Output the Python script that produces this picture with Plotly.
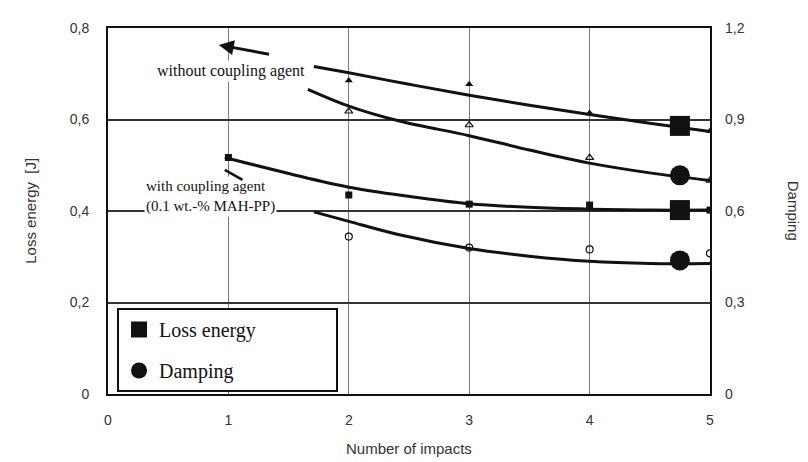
import plotly.graph_objects as go

# ---- data ----
impacts = [1, 2, 3, 4, 5]

# measured points
loss_without_x = [2, 3, 4, 5]
loss_without = [0.685, 0.677, 0.614, 0.575]
damp_without_x = [2, 3, 4, 5]
damp_without = [0.927, 0.882, 0.775, 0.70]
loss_with_x = [1, 2, 3, 4, 5]
loss_with = [0.517, 0.435, 0.415, 0.413, 0.402]
damp_with_x = [2, 3, 4, 5]
damp_with = [0.516, 0.48, 0.474, 0.461]

# fitted curves
fit_loss_without_x = [1.71, 2.0, 2.5, 3.0, 3.5, 4.0, 4.5, 5.0]
fit_loss_without = [0.716, 0.702, 0.677, 0.653, 0.631, 0.611, 0.592, 0.574]
fit_damp_without_x = [1.66, 2.0, 2.42, 3.0, 3.5, 4.0, 4.5, 5.0]
fit_damp_without = [0.999, 0.944, 0.895, 0.847, 0.80, 0.757, 0.725, 0.70]
fit_loss_with_x = [0.97, 1.5, 2.0, 2.5, 3.0, 3.5, 4.0, 4.5, 5.0]
fit_loss_with = [0.517, 0.482, 0.452, 0.432, 0.416, 0.408, 0.404, 0.402, 0.402]
fit_damp_with_x = [1.71, 2.0, 2.42, 3.0, 3.5, 4.0, 4.5, 5.0]
fit_damp_with = [0.597, 0.566, 0.522, 0.477, 0.452, 0.435, 0.428, 0.428]

# curve labels (big symbols)
label_x = [4.75, 4.75]
label_loss = [0.586, 0.402]
label_damp = [0.717, 0.438]

x_ticks = [0, 1, 2, 3, 4, 5]
left_ticks = [0, 0.2, 0.4, 0.6, 0.8]
left_tick_text = ["0", "0,2", "0,4", "0,6", "0,8"]
right_ticks = [0, 0.3, 0.6, 0.9, 1.2]
right_tick_text = ["0", "0,3", "0,6", "0,9", "1,2"]

SANS = "Liberation Sans, Arial, sans-serif"
SERIF = "Liberation Serif, Times New Roman, serif"
INK = "#111111"
NBSP = "\u00a0"

fig = go.Figure()

def curve(x, y, axis):
    fig.add_trace(go.Scatter(x=x, y=y, mode="lines", yaxis=axis,
                             line=dict(color=INK, width=3, shape="spline", smoothing=1.0),
                             showlegend=False, hoverinfo="skip"))

curve(fit_loss_without_x, fit_loss_without, "y")
curve(fit_damp_without_x, fit_damp_without, "y2")
curve(fit_loss_with_x, fit_loss_with, "y")
curve(fit_damp_with_x, fit_damp_with, "y2")

fig.add_trace(go.Scatter(x=loss_without_x, y=loss_without, mode="markers", yaxis="y",
                         marker=dict(symbol="triangle-up", size=7, color=INK), showlegend=False))
fig.add_trace(go.Scatter(x=damp_without_x, y=damp_without, mode="markers", yaxis="y2",
                         marker=dict(symbol="triangle-up-open", size=7, color=INK,
                                     line=dict(width=1.2, color=INK)), showlegend=False))
fig.add_trace(go.Scatter(x=loss_with_x, y=loss_with, mode="markers", yaxis="y",
                         marker=dict(symbol="square", size=7, color=INK), showlegend=False))
fig.add_trace(go.Scatter(x=damp_with_x, y=damp_with, mode="markers", yaxis="y2",
                         marker=dict(symbol="circle-open", size=7, color=INK,
                                     line=dict(width=1.2, color=INK)), showlegend=False))

fig.add_trace(go.Scatter(x=label_x, y=label_loss, mode="markers", yaxis="y",
                         name="Loss energy" + NBSP * 15, legendgroup="a",
                         marker=dict(symbol="square", size=20, color=INK)))
fig.add_trace(go.Scatter(x=label_x, y=label_damp, mode="markers", yaxis="y2",
                         name="Damping", legendgroup="b",
                         marker=dict(symbol="circle", size=20, color=INK)))

# page body has an 8px default margin: figure is drawn 8px right/down
fig.update_layout(
    width=800, height=454,
    margin=dict(l=100, r=98, t=16, b=68),
    paper_bgcolor="white", plot_bgcolor="white",
    font=dict(family=SANS, size=14, color="#333333"),
    xaxis=dict(range=[0, 5], tickvals=x_ticks, ticks="", ticklabelstandoff=12,
               showgrid=True, gridcolor="#777777", gridwidth=1,
               showline=True, linecolor=INK, linewidth=2, mirror=True, zeroline=False,
               tickfont=dict(family=SANS, size=14, color="#333333")),
    yaxis=dict(range=[0, 0.8], tickvals=left_ticks, ticktext=left_tick_text, ticks="",
               ticklabelstandoff=14, showgrid=True, gridcolor="#333333", gridwidth=1.5,
               showline=True, linecolor=INK, linewidth=2, mirror=True, zeroline=False,
               tickfont=dict(family=SANS, size=14, color="#333333")),
    yaxis2=dict(range=[0, 1.2], tickvals=right_ticks, ticktext=right_tick_text, ticks="",
                overlaying="y", side="right", showgrid=False, ticklabelstandoff=14,
                showline=False, zeroline=False,
                tickfont=dict(family=SANS, size=14, color="#333333")),
    legend=dict(x=0.015, y=0.235, xanchor="left", yanchor="top",
                bgcolor="white", bordercolor=INK, borderwidth=2,
                font=dict(family=SERIF, size=20, color=INK),
                itemsizing="trace", tracegroupgap=12),
    showlegend=True,
)

annotations = [
    dict(text="without coupling agent", x=1.02, y=0.706, xref="x", yref="y",
         showarrow=False, font=dict(family=SERIF, size=16, color=INK),
         bgcolor="white", xanchor="center", yanchor="middle"),
    dict(text="with coupling agent<br>(0.1 wt.-% MAH-PP)", x=0.3, y=0.432, xref="x", yref="y",
         showarrow=False, font=dict(family=SERIF, size=15, color=INK), align="left",
         bgcolor="white", xanchor="left", yanchor="middle"),
    dict(text="", x=0.92, y=0.763, xref="x", yref="y", ax=1.35, ay=0.742,
         axref="x", ayref="y", showarrow=True, arrowhead=2, arrowsize=1,
         arrowwidth=3, arrowcolor=INK),
    dict(text="", x=0.97, y=0.49, xref="x", yref="y", ax=1.13, ay=0.466,
         axref="x", ayref="y", showarrow=True, arrowhead=0, arrowwidth=2.5,
         arrowcolor=INK),
    dict(text="Loss energy  [J]", x=-0.13, y=0.5, xref="paper", yref="paper",
         textangle=-90, showarrow=False, font=dict(family=SANS, size=15, color="#333333"),
         xanchor="center", yanchor="middle"),
    dict(text="Damping", x=1.14, y=0.5, xref="paper", yref="paper",
         textangle=90, showarrow=False, font=dict(family=SANS, size=15, color="#333333"),
         xanchor="center", yanchor="middle"),
    dict(text="Number of impacts", x=0.5, y=-0.149, xref="paper", yref="paper",
         showarrow=False, font=dict(family=SANS, size=15, color="#333333"),
         xanchor="center", yanchor="middle"),
]
fig.update_layout(annotations=annotations)

fig.write_html("out.html")
